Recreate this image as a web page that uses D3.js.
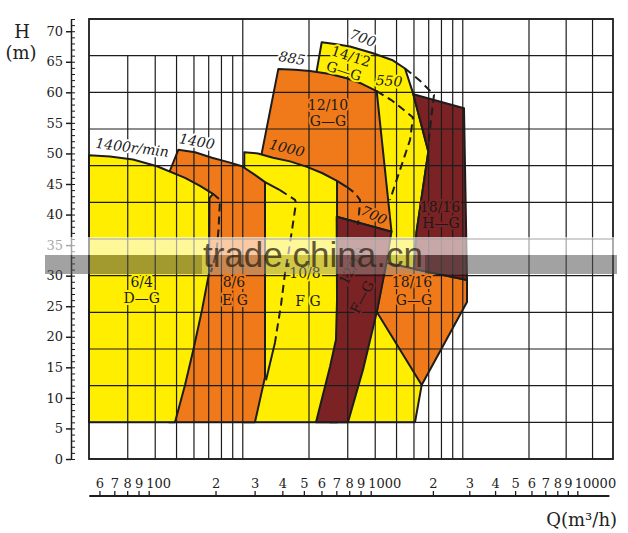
<!DOCTYPE html>
<html><head><meta charset="utf-8">
<script src="https://cdn.jsdelivr.net/npm/d3@7"></script>
<style>
html,body{margin:0;padding:0;background:#fff;}
svg{display:block;font-family:"DejaVu Serif",serif;}
</style></head><body>
<svg id="chart" width="628" height="533"></svg>
<script>
// ---------------- data ----------------
const hTicks = [0,5,10,15,20,25,30,35,40,45,50,55,60,65,70];
const hMinor = d3.range(0, 73, 1);
const gridQ = [75,100,125,150,175,200,225,250,500,750,1000,1250,1500,1750,2000,2250,2500,5000,7500,10000];
const shortGridQ = [75,100,125,150,175,200,225];
const gridH = [0,6,12,18,24,30,36,42,48,54,60,66,72];
const rulerTicks = [60,70,80,90,100,200,300,400,500,600,700,800,900,1000,2000,3000,4000,5000,6000,7000,8000,9000,10000];
const rulerLabels = ["6","7","8","9","100","2","3","4","5","6","7","8","9","1000","2","3","4","5","6","7","8","9","10000"];

// pump regions (Q m3/h, H m)
const p1412Q = [571,656,768,977,1192,1366,1490,1743,1540,1500,1970,1626,1516,623,542];
const p1412H = [68.2,67.9,67.5,66.4,65.3,63.9,59.7,50.3,37.1,31.1,26.0,12.1,6,6,63.5];
const p1210Q = [362.6,432,505,623,741.7,870.5,1015.5,1185.7,668,670.5,299.4,302.5];
const p1210H = [63.8,63.7,63.5,63.0,62.3,61.4,60.2,37.2,39.65,43.0,48.6,49.4];
const p108Q = [254,293.2,343,410,489.6,573,670.5,670.5,253];
const p108H = [50.2,50.0,49.3,48.7,47.8,46.8,45.5,6,6];
const p86Q = [127.3,151.7,181.2,218.7,248,284,315.5,315.5,284,115.5,115.5];
const p86H = [50.6,50.2,49.3,48.5,47.9,46.5,45.3,13.4,6,6,46.8];
const p64Q = [50,62.3,79.2,101.9,136.6,159.8,183,176.5,175.6,163.2,149.3,136.6,123,50];
const p64H = [49.7,49.5,49.0,47.9,46.0,44.7,43.4,42.7,30.4,24.4,18.0,12.1,6,6];
const p1816GQ = [1119.5,2613,2613,1626,1015.5];
const p1816GH = [32.1,29.3,25.7,12.1,24.1];
const p1816HQ = [1490,2532,2613,1500,1540,1743];
const p1816HH = [59.7,57.4,29.3,31.1,37.1,50.3];
const p1210FQ = [668,1185.7,1119.5,1019,880,752,538,623,663,670.5];
const p1210FH = [39.65,37.2,31.7,24.2,14.6,6,6,15.1,19.5,26.0];

// extension lines of the curves
const e64dQ = [183,197,193.9,189.9,179.3];
const e64dH = [43.4,42.4,37.5,33.9,30.6];
const e86sQ = [315.5,369];
const e86sH = [45.3,44.0];
const e86dQ = [369,432,436.5,423,405.6,389,373,350];
const e86dH = [44.0,42.4,41.9,38.6,34.2,30.4,25.2,19.0];
const e86s2Q = [350,318.8];
const e86s2H = [19.0,12.9];
const e108sQ = [670.5,744];
const e108sH = [45.5,44.5];
const e108dQ = [744,809.5,852.5,852.5,835];
const e108dH = [44.5,43.5,42.4,41.9,38.3];
const e1210dQ = [1015.5,1188,1485,1439,1296,1167];
const e1210dH = [60.2,58.7,55.9,52.2,47.3,42.4];
const e1412dQ = [1366,1598,1850,1792.6,1737];
const e1412dH = [63.9,61.9,59.6,55.5,50.9];

// ---------------- drawing ----------------
const COL = {y:"#FFEE00", o:"#F07A19", r:"#7B2324", k:"#1c1c1c"};
const svg = d3.select("#chart");
const x = d3.scaleLog().domain([50,500,5000,12500]).range([89,309,529,613]);
const y = d3.scaleLinear().domain([0,72]).range([459,19]);
const xr = d3.scaleLog().domain([100,1000,10000]).range([148.7,370.7,577.3]);
const zip = (q,h) => q.map((v,i)=>[v,h[i]]);
const line = d3.line().x(d=>x(d[0])).y(d=>y(d[1]));

const regions = [
  {q:p1412Q,h:p1412H,c:COL.y},
  {q:p1210Q,h:p1210H,c:COL.o},
  {q:p108Q,h:p108H,c:COL.y},
  {q:p86Q,h:p86H,c:COL.o},
  {q:p64Q,h:p64H,c:COL.y},
  {q:p1816GQ,h:p1816GH,c:COL.o},
  {q:p1816HQ,h:p1816HH,c:COL.r},
  {q:p1210FQ,h:p1210FH,c:COL.r}
];
svg.append("g").selectAll("path").data(regions).join("path")
  .attr("d",d=>line(zip(d.q,d.h))+"Z")
  .attr("fill",d=>d.c).attr("stroke",COL.k).attr("stroke-width",2).attr("stroke-linejoin","round");

// grid
const grid = svg.append("g").attr("stroke",COL.k).attr("stroke-width",1.2);
grid.selectAll("line.v").data(gridQ).join("line").attr("class","v")
  .attr("x1",d=>x(d)).attr("x2",d=>x(d))
  .attr("y1",y(0)).attr("y2",d=>shortGridQ.includes(d)?y(66):y(72));
grid.selectAll("line.h").data(gridH).join("line").attr("class","h")
  .attr("x1",x(50)).attr("x2",x(12500)).attr("y1",d=>y(d)).attr("y2",d=>y(d));
svg.append("rect").attr("x",x(50)).attr("y",y(72))
  .attr("width",x(12500)-x(50)).attr("height",y(0)-y(72))
  .attr("fill","none").attr("stroke",COL.k).attr("stroke-width",1.8);

// extension lines
const ext = [
  {q:e64dQ,h:e64dH,dash:true},
  {q:e86sQ,h:e86sH,dash:false},
  {q:e86dQ,h:e86dH,dash:true},
  {q:e86s2Q,h:e86s2H,dash:false},
  {q:e108sQ,h:e108sH,dash:false},
  {q:e108dQ,h:e108dH,dash:true},
  {q:e1210dQ,h:e1210dH,dash:true},
  {q:e1412dQ,h:e1412dH,dash:true}
];
svg.append("g").selectAll("path").data(ext).join("path")
  .attr("d",d=>line(zip(d.q,d.h)))
  .attr("fill","none").attr("stroke",COL.k).attr("stroke-width",2)
  .attr("stroke-dasharray",d=>d.dash?"8,5":null);

// labels
const labels = [
  {t:"1400r/min",q:78.6,h:51.0,r:7,bg:"#fff",it:1},
  {t:"1400",q:154.8,h:52.0,r:10,bg:"#fff",it:1},
  {t:"1000",q:397,h:50.9,r:14,bg:COL.o,it:1},
  {t:"885",q:418.5,h:65.6,r:10,bg:"#fff",it:1},
  {t:"700",q:880,h:68.9,r:20,bg:"#fff",it:1},
  {t:"550",q:1155,h:61.9,r:3,bg:COL.y,it:1},
  {t:"14/12",q:776,h:65.9,r:18,bg:COL.y},
  {t:"G—G",q:721,h:63.5,r:18,bg:COL.y},
  {t:"12/10",q:610,h:57.9,r:0,bg:COL.o},
  {t:"G—G",q:610,h:55.3,r:0,bg:COL.o},
  {t:"700",q:987.5,h:39.9,r:25,bg:COL.o,it:1},
  {t:"18/16",q:1970,h:41.2,r:0,bg:COL.r},
  {t:"H—G",q:1990,h:38.6,r:0,bg:COL.r},
  {t:"18/16",q:1469.5,h:29.0,r:0,bg:COL.o},
  {t:"G—G",q:1500,h:26.0,r:0,bg:COL.o},
  {t:"6/4",q:86.8,h:29.0,r:0,bg:COL.y},
  {t:"D—G",q:86.8,h:26.3,r:0,bg:COL.y},
  {t:"8/6",q:228,h:29.0,r:0,bg:COL.o},
  {t:"E G",q:230.5,h:26.0,r:0,bg:COL.o},
  {t:"10/8",q:479.6,h:30.4,r:0,bg:COL.y},
  {t:"F G",q:495,h:25.9,r:0,bg:COL.y},
  {t:"12/10",q:784,h:31.6,r:-62,bg:COL.r},
  {t:"F—G",q:870.5,h:26.5,r:-62,bg:COL.r}
];
svg.append("g").selectAll("text").data(labels).join("text")
  .attr("transform",d=>`translate(${x(d.q)},${y(d.h)}) rotate(${d.r})`)
  .attr("text-anchor","middle").attr("dominant-baseline","central")
  .attr("font-size",14).attr("font-style",d=>d.it?"italic":"normal")
  .attr("fill","#1a1a1a").attr("stroke",d=>d.bg).attr("stroke-width",4)
  .attr("paint-order","stroke").attr("stroke-linejoin","round")
  .text(d=>d.t);

// y axis
const ga = svg.append("g").attr("transform","translate(71,0)");
ga.call(d3.axisLeft(y).tickValues(hTicks).tickSizeInner(5).tickSizeOuter(0).tickPadding(3));
ga.selectAll("path,line").attr("stroke",COL.k).attr("stroke-width",1.5);
ga.selectAll("text").attr("font-family","DejaVu Serif").attr("font-size",13).attr("fill","#222");
const gm = svg.append("g").attr("transform","translate(71,0)");
gm.call(d3.axisRight(y).tickValues(hMinor).tickSize(4).tickFormat(""));
gm.select(".domain").remove();
gm.selectAll("line").attr("stroke",COL.k).attr("stroke-width",1);

svg.append("text").attr("x",22).attr("y",38).attr("text-anchor","middle").attr("font-size",18).attr("fill","#222").text("H");
svg.append("text").attr("x",21).attr("y",59).attr("text-anchor","middle").attr("font-size",18).attr("fill","#222").text("(m)");

// bottom ruler
const gr = svg.append("g").attr("transform","translate(0,496)");
gr.call(d3.axisTop(xr).tickValues(rulerTicks).tickSize(5).tickPadding(3).tickFormat((d,i)=>rulerLabels[i]));
gr.select(".domain").remove();
gr.selectAll("line").attr("stroke",COL.k).attr("stroke-width",1.3);
gr.selectAll("text").attr("font-family","DejaVu Serif").attr("font-size",13).attr("fill","#222")
  .attr("text-anchor",(d,i)=>rulerLabels[i].length>2?"start":"middle")
  .attr("dx",(d,i)=>rulerLabels[i].length>2?-3:0);
gr.append("line").attr("x1",xr(54)).attr("x2",xr(14300)).attr("y1",0).attr("y2",0)
  .attr("stroke",COL.k).attr("stroke-width",2.2);
svg.append("text").attr("x",617).attr("y",526).attr("text-anchor","end").attr("font-size",18).attr("fill","#222").text("Q(m³/h)");

// watermark band
const wm = svg.append("g");
wm.append("rect").attr("x",45).attr("y",237).attr("width",572).attr("height",18).attr("fill","#fff").attr("opacity",0.6);
wm.append("rect").attr("x",45).attr("y",255).attr("width",157).attr("height",19).attr("fill","#555").attr("opacity",0.55);
wm.append("rect").attr("x",425).attr("y",255).attr("width",192).attr("height",19).attr("fill","#555").attr("opacity",0.55);
wm.append("rect").attr("x",202).attr("y",255).attr("width",223).attr("height",19).attr("fill","#999").attr("opacity",0.45);
wm.append("text").attr("x",203).attr("y",267).attr("font-family","Liberation Sans, Arial, sans-serif")
  .attr("font-size",35).attr("fill","#2d2415").attr("opacity",0.75).text("trade.china.cn");
</script>
</body></html>
